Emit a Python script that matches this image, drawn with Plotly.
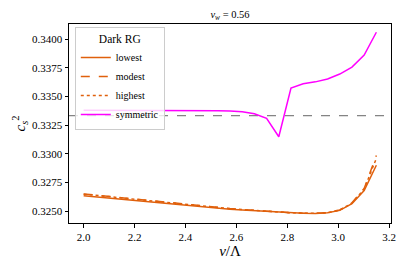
import numpy as np
import plotly.graph_objects as go

x_vals = np.linspace(2.0, 3.15, 25)

lowest = [0.32633, 0.32623, 0.32613, 0.32603, 0.32593, 0.32583, 0.32573, 0.32563,
          0.32553, 0.32543, 0.32534, 0.32525, 0.32517, 0.32510, 0.32503, 0.32496,
          0.32490, 0.32485, 0.32481, 0.32479, 0.32485, 0.32506, 0.32565, 0.32680, 0.32900]
modest = [0.32650, 0.32639, 0.32628, 0.32617, 0.32606, 0.32595, 0.32584, 0.32573,
          0.32562, 0.32551, 0.32541, 0.32531, 0.32522, 0.32514, 0.32506, 0.32498,
          0.32491, 0.32485, 0.32481, 0.32480, 0.32487, 0.32510, 0.32572, 0.32698, 0.32985]
highest = [0.32648, 0.32637, 0.32626, 0.32615, 0.32604, 0.32593, 0.32582, 0.32571,
           0.32561, 0.32550, 0.32540, 0.32530, 0.32521, 0.32513, 0.32505, 0.32497,
           0.32491, 0.32485, 0.32481, 0.32480, 0.32486, 0.32509, 0.32569, 0.32692, 0.32960]
symmetric = [0.33380, 0.33380, 0.33380, 0.33380, 0.33380, 0.33380, 0.33379, 0.33379,
             0.33379, 0.33378, 0.33377, 0.33376, 0.33373, 0.33366, 0.33349, 0.33310,
             0.33149, 0.33574, 0.33612, 0.33628, 0.33653, 0.33696, 0.33757, 0.33861, 0.34061]

conformal = 1.0 / 3.0

x_ticks = [2.0, 2.2, 2.4, 2.6, 2.8, 3.0, 3.2]
y_ticks = [0.3250, 0.3275, 0.3300, 0.3325, 0.3350, 0.3375, 0.3400]

ORANGE = "#e0600c"
FONT = "Liberation Serif"

def f(size):
    return dict(family=FONT, size=size, color="black")

fig = go.Figure()
fig.add_trace(go.Scatter(x=x_vals, y=lowest, mode="lines", name="lowest",
                         line=dict(color=ORANGE, width=1.5)))
fig.add_trace(go.Scatter(x=x_vals, y=modest, mode="lines", name="modest",
                         line=dict(color=ORANGE, width=1.5, dash="dash")))
fig.add_trace(go.Scatter(x=x_vals, y=highest, mode="lines", name="highest",
                         line=dict(color=ORANGE, width=1.5, dash="dot")))
fig.add_trace(go.Scatter(x=x_vals, y=symmetric, mode="lines", name="symmetric",
                         line=dict(color="#ff00ff", width=1.5)))

fig.add_shape(type="line", xref="paper", yref="y", x0=0, x1=1, y0=conformal, y1=conformal,
              line=dict(color="rgba(110,110,110,0.85)", width=1.3, dash="dash"), layer="below")

# page body adds an 8px offset; layout is sized to compensate
fig.update_layout(
    width=399, height=263,
    margin=dict(l=61, r=16, t=16, b=48, autoexpand=False),
    plot_bgcolor="white", paper_bgcolor="white",
    font=f(11),
    title=dict(text="<i>v<sub>w</sub></i> = 0.56", x=0.5, xanchor="center",
               xref="paper", y=0.975, yanchor="middle", font=f(10.5)),
    legend=dict(title=dict(text="Dark RG", side="top center", font=f(11.5)),
                x=0.018, y=0.985, xanchor="left", yanchor="top",
                bgcolor="rgba(255,255,255,0.8)", bordercolor="#cccccc", borderwidth=1,
                font=f(10), itemwidth=30, tracegroupgap=0),
    showlegend=True,
)
fig.update_xaxes(range=[1.9425, 3.2075], tickvals=x_ticks, tickformat=".1f", automargin=False,
                 showgrid=False, zeroline=False, showline=True, linecolor="black",
                 linewidth=1, mirror=True, ticks="outside", ticklen=3.5, tickwidth=0.8,
                 tickcolor="black", tickfont=f(11),
                 title=dict(text="<i>v</i>/Λ", font=f(15), standoff=2))
fig.update_yaxes(range=[0.32396, 0.34133], tickvals=y_ticks, tickformat=".4f", automargin=False,
                 showgrid=False, zeroline=False, showline=True, linecolor="black",
                 linewidth=1, mirror=True, ticks="outside", ticklen=3.5, tickwidth=0.8,
                 tickcolor="black", tickfont=f(11),
                 title=dict(text="<i>c</i><sub><i>s</i></sub><sup>2</sup>", font=f(15), standoff=2))

fig.write_html("out.html")
